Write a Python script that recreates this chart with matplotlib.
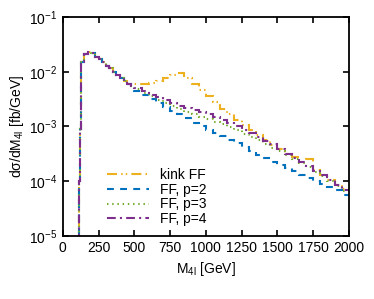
import matplotlib
matplotlib.use("Agg")
import matplotlib.pyplot as plt
import numpy as np

plt.rcParams['font.family'] = ['Liberation Sans', 'DejaVu Sans']
plt.rcParams['mathtext.fontset'] = 'custom'
plt.rcParams['mathtext.rm'] = 'Liberation Sans'
plt.rcParams['mathtext.it'] = 'Liberation Sans:italic'

# bin edges [GeV]
bin_edges = [100, 110, 120, 130, 150, 175, 200, 225, 250, 275, 300, 325, 350,
             375, 400, 425, 450, 475, 500, 550, 600, 650, 700, 750, 800, 850,
             900, 950, 1000, 1050, 1100, 1150, 1200, 1250, 1300, 1350, 1400,
             1450, 1500, 1550, 1600, 1650, 1700, 1750, 1800, 1850, 1900, 1950,
             2000]

# common low-mass part (identical for all curves), bins 100..450
common = [1e-7, 1.0e-4, 9e-4, 1.5e-2, 2.1e-2, 2.25e-2, 2.2e-2, 1.9e-2, 1.68e-2,
          1.48e-2, 1.3e-2, 1.15e-2, 9.8e-3, 8.6e-3, 7.6e-3, 6.8e-3]

# bins 450..500 and 500..2000 per curve
kink_ff = [6.2e-3, 5.9e-3,
           5.9e-3, 6.0e-3, 6.3e-3, 6.9e-3, 7.8e-3, 8.9e-3, 9.5e-3, 7.6e-3, 6.0e-3, 4.57e-3,
           3.55e-3, 2.75e-3, 2.09e-3, 1.66e-3, 1.32e-3, 1.05e-3, 8.7e-4, 7.1e-4, 5.6e-4, 4.6e-4,
           3.8e-4, 3.2e-4, 2.75e-4, 2.29e-4, 2.5e-4, 1.58e-4, 1.32e-4, 1.07e-4, 8.7e-5, 7.1e-5]
ff_p2 = [6.0e-3, 5.2e-3,
         4.37e-3, 3.72e-3, 3.16e-3, 2.69e-3, 2.29e-3, 1.95e-3, 1.66e-3, 1.41e-3, 1.17e-3, 1.0e-3,
         8.7e-4, 7.6e-4, 6.6e-4, 5.75e-4, 4.9e-4, 4.17e-4, 3.55e-4, 3.02e-4, 2.63e-4, 2.29e-4,
         2.0e-4, 1.74e-4, 1.51e-4, 1.32e-4, 1.15e-4, 1.02e-4, 8.9e-5, 7.8e-5, 6.8e-5, 5.6e-5]
ff_p3 = [6.1e-3, 5.4e-3,
         4.9e-3, 4.17e-3, 3.55e-3, 3.09e-3, 2.69e-3, 2.34e-3, 2.09e-3, 1.86e-3, 1.66e-3, 1.51e-3,
         1.38e-3, 1.23e-3, 1.10e-3, 9.8e-4, 8.5e-4, 7.4e-4, 6.5e-4, 5.6e-4, 4.8e-4, 4.1e-4,
         3.5e-4, 2.95e-4, 2.5e-4, 2.14e-4, 1.78e-4, 1.48e-4, 1.23e-4, 1.02e-4, 8.3e-5, 6.6e-5]
ff_p4 = [6.1e-3, 5.5e-3,
         5.0e-3, 4.37e-3, 3.8e-3, 3.39e-3, 3.02e-3, 2.69e-3, 2.4e-3, 2.19e-3, 2.0e-3, 1.82e-3,
         1.66e-3, 1.48e-3, 1.32e-3, 1.15e-3, 1.0e-3, 8.7e-4, 7.6e-4, 6.5e-4, 5.5e-4, 4.7e-4,
         3.9e-4, 3.2e-4, 2.7e-4, 2.24e-4, 1.86e-4, 1.55e-4, 1.29e-4, 1.05e-4, 8.5e-5, 6.8e-5]

labels = ["kink FF", "FF, p=2", "FF, p=3", "FF, p=4"]
colors = ["#EDB120", "#0072BD", "#77AC30", "#7E2F8E"]
styles = [(0, (4.8, 2, 0.7, 1.5, 0.7, 2)), (0, (3.3, 3.0)), (0, (0.7, 1.8)),
          (0, (4.2, 2, 1, 2))]
x_ticks = [0, 250, 500, 750, 1000, 1250, 1500, 1750, 2000]

fig = plt.figure(figsize=(3.74, 2.99), dpi=100)
ax = fig.add_axes([0.168, 0.211, 0.765, 0.732])

for vals, lab, col, ls in zip([kink_ff, ff_p2, ff_p3, ff_p4], labels, colors, styles):
    ax.stairs(common + vals, bin_edges, baseline=None, color=col, linestyle=ls,
              linewidth=1.5, label=lab)

ax.set_yscale('log')
ax.set_xlim(0, 2000)
ax.set_ylim(1e-5, 1e-1)
ax.set_xticks(x_ticks)
ax.set_xticklabels([str(t) for t in x_ticks])
ax.minorticks_off()
ax.tick_params(which='both', direction='in', top=True, right=True, length=4,
               width=1.2, labelsize=10, pad=4)
for s in ax.spines.values():
    s.set_linewidth(1.3)

ax.set_xlabel(r'M$_{\mathrm{4l}}$ [GeV]', fontsize=10, labelpad=3)
ax.set_ylabel('dσ/dM$_{\\mathrm{4l}}$ [fb/GeV]', fontsize=10, labelpad=2)

ax.legend(loc='lower left', bbox_to_anchor=(0.12, 0.0), frameon=False, fontsize=10,
          handlelength=3.0, labelspacing=0.05, handletextpad=0.8, borderaxespad=0.3)

fig.savefig('out.png', dpi=100)
